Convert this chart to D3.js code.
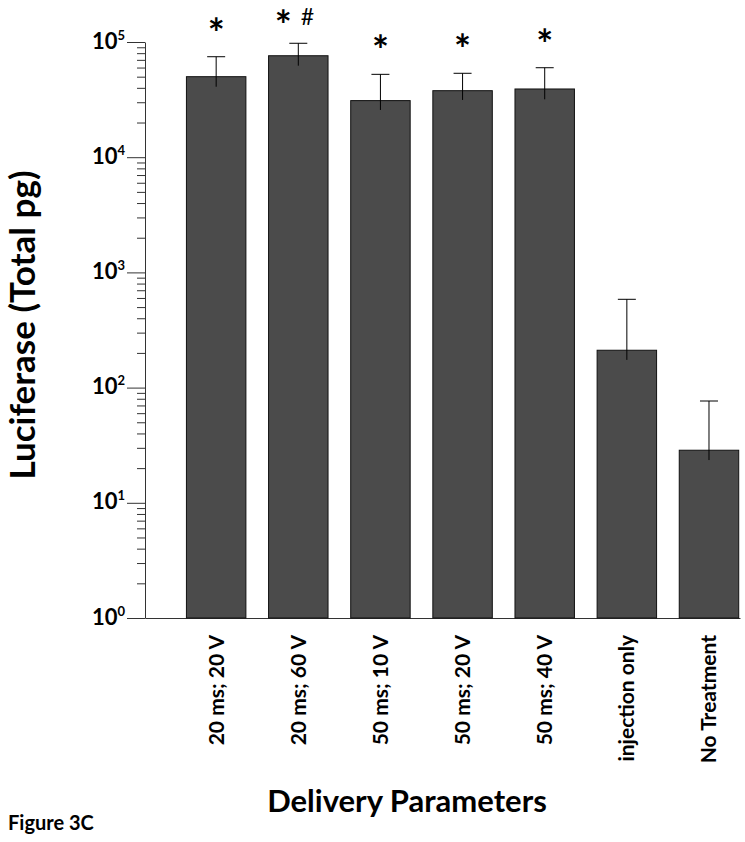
<!DOCTYPE html>
<html>
<head>
<meta charset="utf-8">
<script src="https://cdn.jsdelivr.net/npm/d3@7"></script>
<style>
  body { margin: 0; background: #fff; }
  text { font-family: "Lato", "Open Sans", sans-serif; font-weight: bold; fill: #000; }
</style>
</head>
<body>
<div id="chart-container"></div>
<script>
// values (total pg, log scale)
const groups = ["20 ms; 20 V", "20 ms; 60 V", "50 ms; 10 V", "50 ms; 20 V", "50 ms; 40 V", "injection only", "No Treatment"];
const means  = [50000, 76000, 31000, 37800, 39100, 211, 28.6];
const errHi  = [74500, 97500, 52400, 53500, 59800, 584, 76.5];
const errLo  = [40900, 62300, 25700, 31400, 31800, 174, 23.5];
const stars  = [true, true, true, true, true, false, false];
const hashes = [false, true, false, false, false, false, false];
const decades = [1, 10, 100, 1000, 10000, 100000];

const W = 745, H = 842;
let margin = {top: 42, right: 5, bottom: 224, left: 145};
let width = W - margin.left - margin.right,
    height = H - margin.top - margin.bottom;

const svg = d3.select("#chart-container")
    .append("svg")
    .attr("width", W)
    .attr("height", H);

const g = svg.append("g")
    .attr("transform", "translate(" + margin.left + "," + margin.top + ")");

const x = d3.scaleBand()
    .domain(groups)
    .range([0, width])
    .paddingInner(0.276)
    .paddingOuter(0.26)
    .align(0.97);

const y = d3.scaleLog()
    .domain([1, 100000])
    .range([height, 0]);

// minor ticks 2..9 in each decade
const minors = [];
decades.slice(0, -1).forEach(d => {
    for (let k = 2; k <= 9; k++) minors.push(d * k);
});

g.append("g")
    .call(d3.axisLeft(y).tickValues(minors).tickSize(8).tickFormat(""))
    .call(a => a.select(".domain").remove())
    .selectAll("line").attr("stroke", "#333");

const yAxis = g.append("g")
    .call(d3.axisLeft(y).tickValues(decades).tickSize(18).tickSizeOuter(0).tickFormat(""));
yAxis.selectAll("line").attr("stroke", "#333");
yAxis.select(".domain").attr("stroke", "#333");

// 10^n labels
yAxis.selectAll(".tick").append("text")
    .attr("x", -20)
    .attr("y", 6)
    .attr("text-anchor", "end")
    .style("font-size", "22px")
    .each(function(d) {
        const t = d3.select(this);
        t.append("tspan").text("10");
        t.append("tspan")
            .attr("dy", -9)
            .style("font-size", "13px")
            .text(Math.round(Math.log10(d)));
    });

const xAxis = g.append("g")
    .attr("transform", "translate(0," + height + ")")
    .call(d3.axisBottom(x).tickSize(0).tickSizeOuter(0));
xAxis.select(".domain").attr("stroke", "#333");
xAxis.selectAll("text")
    .attr("transform", "rotate(-90)")
    .attr("x", -17)
    .attr("y", 0)
    .attr("dy", "0.35em")
    .style("text-anchor", "end")
    .style("font-size", "21px");

// bars
g.selectAll("rect.bar")
    .data(means)
    .enter()
    .append("rect")
    .attr("class", "bar")
    .attr("x", (d, i) => x(groups[i]))
    .attr("y", d => y(d))
    .attr("width", x.bandwidth())
    .attr("height", d => height - y(d))
    .attr("fill", "#4b4b4b")
    .attr("stroke", "#111")
    .attr("stroke-width", 1);

// error bars
const err = g.append("g");
means.forEach((m, i) => {
    const cx = x(groups[i]) + x.bandwidth() / 2;
    err.append("line")
        .attr("x1", cx).attr("x2", cx)
        .attr("y1", y(errLo[i])).attr("y2", y(errHi[i]))
        .attr("stroke", "#000").attr("stroke-width", 1);
    err.append("line")
        .attr("x1", cx - 9).attr("x2", cx + 9)
        .attr("y1", y(errHi[i])).attr("y2", y(errHi[i]))
        .attr("stroke", "#000").attr("stroke-width", 1);
});

// significance marks (* and #), centred ~35px above the error cap
stars.forEach((s, i) => {
    if (!s) return;
    const cx = x(groups[i]) + x.bandwidth() / 2;
    const cy = Math.max(y(errHi[i]) - 35, -28);
    g.append("text")
        .attr("x", hashes[i] ? cx - 15 : cx)
        .attr("y", cy + 26)
        .attr("text-anchor", "middle")
        .style("font-size", "40px")
        .text("*");
    if (hashes[i]) {
        g.append("text")
            .attr("x", cx + 9)
            .attr("y", cy + 11)
            .attr("text-anchor", "middle")
            .style("font-size", "23px")
            .style("font-weight", "normal")
            .text("#");
    }
});

// axis titles
svg.append("text")
    .attr("transform", "translate(35,325) rotate(-90)")
    .attr("text-anchor", "middle")
    .style("font-size", "35px")
    .text("Luciferase (Total pg)");

svg.append("text")
    .attr("x", 407)
    .attr("y", 812)
    .attr("text-anchor", "middle")
    .style("font-size", "31px")
    .text("Delivery Parameters");

svg.append("text")
    .attr("x", 8)
    .attr("y", 830)
    .style("font-size", "20px")
    .text("Figure 3C");
</script>
</body>
</html>
